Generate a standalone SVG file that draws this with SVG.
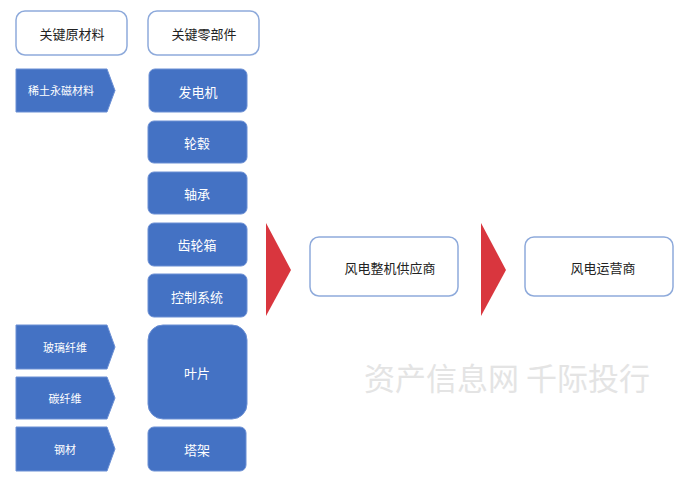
<svg xmlns="http://www.w3.org/2000/svg" width="700" height="489" viewBox="0 0 700 489">
<style>
.hdr{fill:#fff;stroke:#8eaadb;stroke-width:1.5}
.blue{fill:#4472c4;stroke:#6b8fd4;stroke-width:1}
.red{fill:#d9363e}
text{font-family:"Noto Sans CJK SC","Noto Sans",sans-serif;text-anchor:middle;dominant-baseline:central}
.dk{fill:#222;font-size:13px}
.wt{fill:#fff;font-size:13px}
.sm{fill:#fff;font-size:11px}
.wm{fill:#e4e4e4;font-size:31px}
</style>
<rect width="700" height="489" fill="#fff"/>
<g id="hdr-raw"><rect class="hdr" x="16" y="11" width="111" height="44" rx="9"/><text class="dk" x="72" y="33">关键原材料</text></g>
<g id="hdr-parts"><rect class="hdr" x="148" y="11" width="111" height="44" rx="9"/><text class="dk" x="204" y="33">关键零部件</text></g>
<g id="raw-rare"><polygon class="blue" points="16,69 107,69 115,90.5 107,112 16,112"/><text class="sm" x="61" y="90">稀土永磁材料</text></g>
<g id="raw-glass"><polygon class="blue" points="16,325 107,325 115,347 107,369 16,369"/><text class="sm" x="65" y="347">玻璃纤维</text></g>
<g id="raw-carbon"><polygon class="blue" points="16,377 107,377 115,398 107,419 16,419"/><text class="sm" x="65" y="398">碳纤维</text></g>
<g id="raw-steel"><polygon class="blue" points="16,427 107,427 115,449 107,471 16,471"/><text class="sm" x="65" y="449">钢材</text></g>
<g id="p-gen"><rect class="blue" x="149" y="69" width="98" height="43" rx="6"/><text class="wt" x="198" y="91">发电机</text></g>
<g id="p-hub"><rect class="blue" x="148" y="121" width="99" height="42" rx="6"/><text class="wt" x="197" y="142">轮毂</text></g>
<g id="p-bear"><rect class="blue" x="148" y="172" width="99" height="42" rx="6"/><text class="wt" x="197" y="193">轴承</text></g>
<g id="p-gear"><rect class="blue" x="148" y="223" width="99" height="43" rx="6"/><text class="wt" x="197" y="244">齿轮箱</text></g>
<g id="p-ctrl"><rect class="blue" x="148" y="274" width="99" height="43" rx="6"/><text class="wt" x="197" y="296">控制系统</text></g>
<g id="p-blade"><rect class="blue" x="148" y="325" width="99" height="94" rx="15"/><text class="wt" x="197" y="372">叶片</text></g>
<g id="p-tower"><rect class="blue" x="148" y="427" width="98" height="44" rx="6"/><text class="wt" x="197" y="449">塔架</text></g>
<g id="connectors">
<polygon class="red" points="266,223 291,270 266,316"/>
<polygon class="red" points="481,223 506,270 481,316"/>
</g>
<g id="oem"><rect class="hdr" x="310" y="237" width="148" height="59" rx="9"/><text class="dk" x="390" y="267">风电整机供应商</text></g>
<g id="operator"><rect class="hdr" x="525" y="237" width="148" height="59" rx="9"/><text class="dk" x="603" y="267">风电运营商</text></g>
<text class="wm" x="507" y="376">资产信息网 千际投行</text>
</svg>
